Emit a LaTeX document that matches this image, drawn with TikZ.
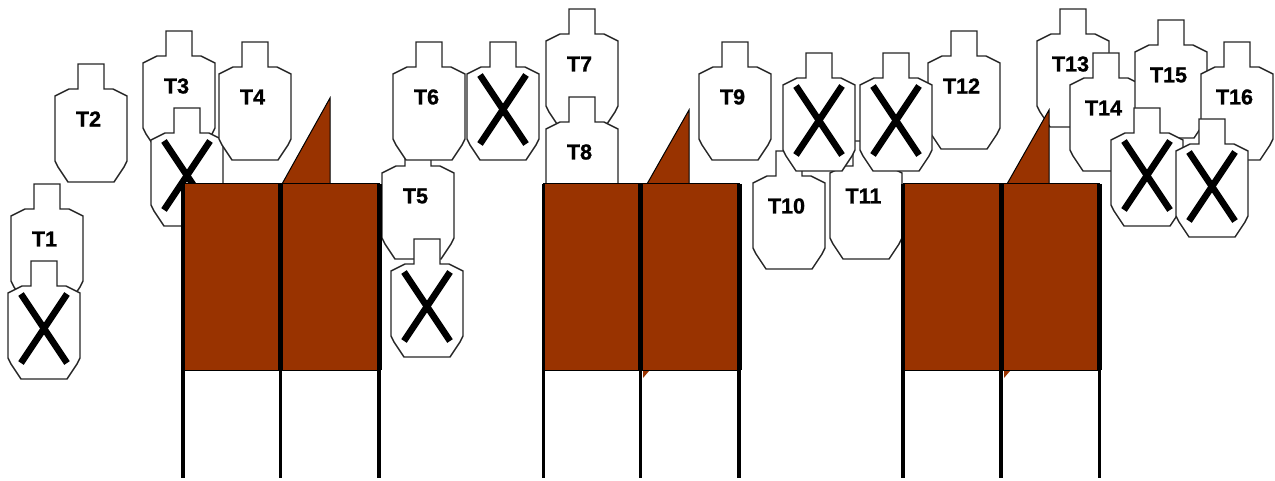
\documentclass[tikz,border=0pt]{standalone}
\usepackage{fontspec}
\setmainfont[BoldFeatures={FakeBold=1.2}]{Liberation Sans}
\definecolor{woodbrown}{HTML}{993300}
\tikzset{
  outline/.style={draw=black!85,line width=1.4pt,fill=white,line join=miter},
  tlabel/.style={font=\fontsize{21.5}{21.5}\selectfont\bfseries,inner sep=0pt,text=black},
  crossbar/.style={draw=black,line width=6.6pt,line cap=butt},
  board/.style={draw=black,line width=1pt,fill=woodbrown},
  wedge/.style={draw=black,line width=1pt,fill=woodbrown,line join=miter},
  tick/.style={fill=woodbrown,draw=none},
  post/.style={draw=black,line width=3.4pt,line cap=butt},
  postbold/.style={draw=black,line width=5pt,line cap=butt}
}
% silhouette with its head centred on #1 and its top at #2
\newcommand{\silhouette}[2]{%
  \begin{scope}[shift={(#1,#2)}]
    \draw[outline] (-13,0) -- (13,0) -- (13,25) -- (22,25) -- (28,28) -- (36,32)
      -- (36,97) -- (33,103) -- (23,118) -- (-23,118) -- (-33,103) -- (-36,97)
      -- (-36,32) -- (-28,28) -- (-22,25) -- (-13,25) -- cycle;
  \end{scope}}
\newcommand{\labelled}[4]{% name, x, top, text
  \silhouette{#2}{#3}%
  \node[tlabel] (#1) at ({#2-2.5},{#3+55}) {#4};}
\newcommand{\crossed}[3]{% name, x, top
  \silhouette{#2}{#3}%
  \coordinate (#1a) at ({#2-23},{#3+33});
  \coordinate (#1b) at ({#2+23},{#3+102});
  \coordinate (#1c) at ({#2+23},{#3+33});
  \coordinate (#1d) at ({#2-23},{#3+102});
  \draw[crossbar] (#1a) -- (#1b);
  \draw[crossbar] (#1c) -- (#1d);}
% a pair of boards: name, left post x, mid post x, right post x, wedge start x, wedge end x, wedge top y
\newcommand{\boards}[7]{%
  \coordinate (#1tl) at (#2,184);
  \coordinate (#1tm) at (#3,184);
  \coordinate (#1tr) at (#4,184);
  \coordinate (#1bl) at (#2,370);
  \coordinate (#1bm) at (#3,370);
  \coordinate (#1br) at (#4,370);
  \coordinate (#1el) at (#2,478);
  \coordinate (#1em) at (#3,478);
  \coordinate (#1er) at (#4,478);
  \draw[wedge] (#5,184) -- (#6,#7) -- (#6,184) -- cycle;
  \draw[board] (#1tl) rectangle (#1br);
  \draw[postbold] (#1tm) -- (#1bm);
  \draw[postbold] (#1tr) -- (#1br);
  \draw[post] (#1tl) -- (#1el);
  \draw[post] (#1bm) -- (#1em);
  \draw[post] (#1br) -- (#1er);}
\begin{document}
\begin{tikzpicture}[x=1pt,y=-1pt]
\useasboundingbox (0,0) rectangle (1275,481);
\labelled{T1}{47}{184}{T1}
\crossed{X1}{44}{261}
\labelled{T2}{91}{64}{T2}
\labelled{T3}{179}{31}{T3}
\crossed{X3}{187}{108}
\labelled{T4}{255}{42}{T4}
\labelled{T5}{418}{141}{T5}
\labelled{T6}{429}{42}{T6}
\crossed{X5}{427}{239}
\crossed{X6}{503}{42}
\labelled{T7}{582}{9}{T7}
\labelled{T8}{582}{97}{T8}
\labelled{T9}{735}{42}{T9}
\labelled{T10}{789}{151}{T10}
\labelled{T11}{866}{141}{T11}
\labelled{T12}{964}{31}{T12}
\crossed{X10}{819}{53}
\crossed{X11}{896}{53}
\labelled{T13}{1073}{9}{T13}
\labelled{T14}{1106}{53}{T14}
\labelled{T15}{1171}{20}{T15}
\labelled{T16}{1237}{42}{T16}
\crossed{X14}{1147}{108}
\crossed{X16}{1212}{119}
\boards{A}{183}{280.5}{379}{282}{330}{98}
\boards{B}{543.5}{640.5}{739}{647}{689}{110}
\boards{C}{903}{1001}{1099.5}{1007}{1049}{110}
\fill[tick] (643,371) -- (649,371) -- (643,378) -- cycle;
\fill[tick] (1004,371) -- (1010,371) -- (1004,378) -- cycle;
\end{tikzpicture}
\end{document}
